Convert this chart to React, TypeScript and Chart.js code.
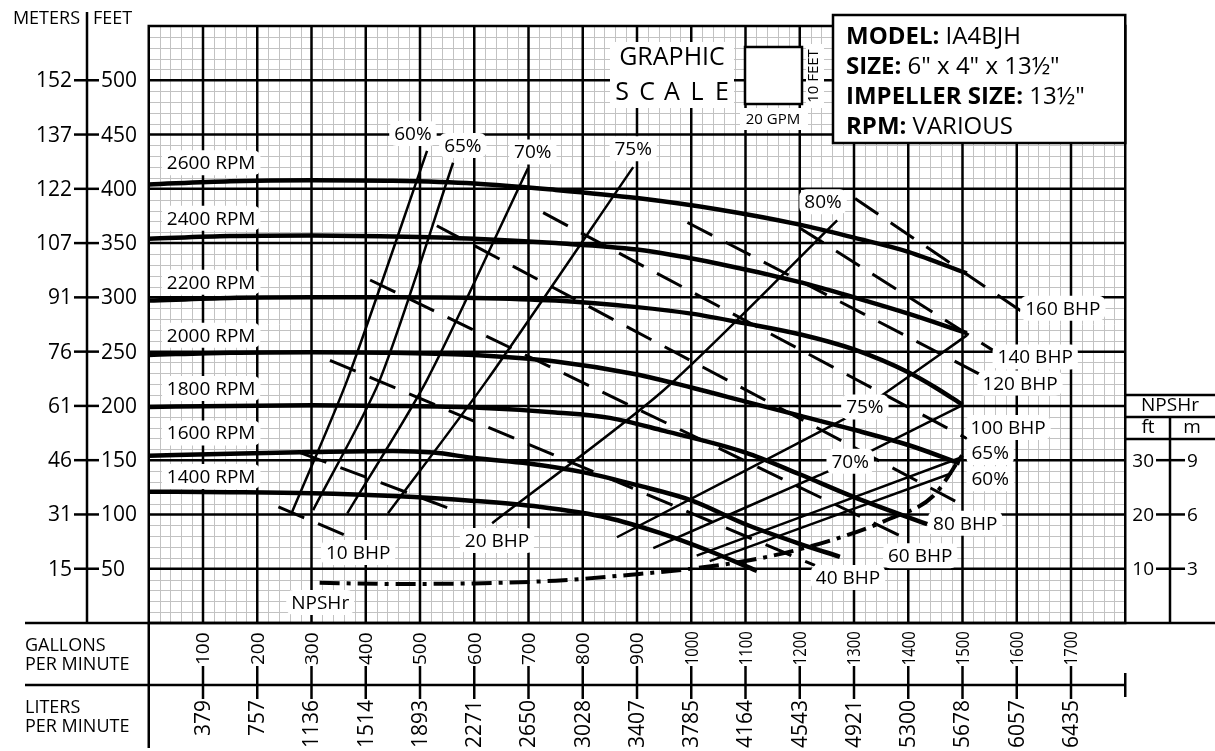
import React, { useEffect, useRef } from "react";
import { Chart, registerables } from "chart.js";

Chart.register(...registerables);

const FONT = '"Open Sans", "Noto Sans", sans-serif';
const X_MAX = 1800;
const Y_MAX = 550;
const NPSH_MAX = 110;

// Axis tick labels
const GPM_TICKS = [100, 200, 300, 400, 500, 600, 700, 800, 900, 1000, 1100, 1200, 1300, 1400, 1500, 1600, 1700];
const LPM_TICKS = ["379", "757", "1136", "1514", "1893", "2271", "2650", "3028", "3407", "3785", "4164", "4543", "4921", "5300", "5678", "6057", "6435"];
const HEAD_FT_TICKS = [500, 450, 400, 350, 300, 250, 200, 150, 100, 50];
const HEAD_M_TICKS = ["152", "137", "122", "107", "91", "76", "61", "46", "31", "15"];
const NPSH_FT_TICKS = [30, 20, 10];
const NPSH_M_TICKS = ["9", "6", "3"];

// Head curves (GPM vs feet)
const RPM_2600_GPM = [0, 150, 300, 450, 600, 750, 900, 1050, 1200, 1300, 1400, 1508];
const RPM_2600_FT = [404, 407, 408, 407.5, 405, 399, 391.5, 381, 367, 355, 342, 322];
const RPM_2400_GPM = [0, 150, 300, 450, 600, 750, 900, 1050, 1200, 1300, 1400, 1508];
const RPM_2400_FT = [354, 356.5, 357, 356, 354, 350, 344, 331, 314, 300, 285, 267];
const RPM_2200_GPM = [0, 150, 300, 450, 600, 750, 900, 1000, 1100, 1200, 1300, 1400, 1450, 1500];
const RPM_2200_FT = [297, 299.5, 300, 300, 299.5, 297, 291, 285, 276, 266, 252, 231, 217, 201];
const RPM_2000_GPM = [0, 150, 300, 450, 600, 750, 900, 1000, 1100, 1200, 1300, 1400, 1495];
const RPM_2000_FT = [247, 249, 249.5, 249, 247, 241, 229, 217, 204, 191, 178, 164, 147];
const RPM_1800_GPM = [0, 150, 300, 450, 600, 750, 850, 950, 1100, 1200, 1300, 1435];
const RPM_1800_FT = [199, 200, 200.5, 200, 198.5, 194, 189, 177, 157, 137, 116, 91];
const RPM_1600_GPM = [0, 150, 300, 450, 525, 600, 700, 800, 900, 1000, 1100, 1200, 1274];
const RPM_1600_FT = [154, 156, 157.5, 158.5, 157, 152, 147, 139, 127, 113, 91, 73, 61];
const RPM_1400_GPM = [0, 150, 300, 450, 600, 720, 845, 942, 1030, 1121];
const RPM_1400_FT = [121, 120.5, 119.5, 117, 112.5, 107, 97, 83, 67, 48];
const RPM_NAMES = ["2600 RPM", "2400 RPM", "2200 RPM", "2000 RPM", "1800 RPM", "1600 RPM", "1400 RPM"];

// NPSHr curve (GPM vs NPSHr feet)
const NPSH_GPM = [315, 450, 600, 750, 900, 1000, 1121, 1250, 1366, 1446, 1500];
const NPSH_FT = [7.4, 7.2, 7.3, 7.8, 9.0, 10.0, 11.8, 15.0, 19.2, 23.4, 31.0];

// Efficiency curves (GPM vs feet)
const EFF_60L_GPM = [513, 366, 264];
const EFF_60L_FT = [435, 224, 102];
const EFF_65L_GPM = [561, 426, 303];
const EFF_65L_FT = [424, 224, 104];
const EFF_70L_GPM = [699, 513, 366];
const EFF_70L_FT = [419, 224, 101];
const EFF_75L_GPM = [893, 624, 441];
const EFF_75L_FT = [420, 224, 101];
const EFF_80_GPM = [633, 948, 1269];
const EFF_80_FT = [92, 214, 371];
const EFF_75R_GPM = [863, 1271, 1320, 1508];
const EFF_75R_FT = [79, 185, 199, 265];
const EFF_70R_GPM = [930, 1235, 1293, 1501];
const EFF_70R_FT = [69, 136, 149, 201];
const EFF_65R_GPM = [1010, 1495];
const EFF_65R_FT = [62, 152];
const EFF_60R_GPM = [1034, 1480];
const EFF_60R_FT = [57, 138];

// Brake horsepower lines (GPM vs feet)
const BHP_10_GPM = [239, 371];
const BHP_10_FT = [107, 79];
const BHP_20_GPM = [279, 552];
const BHP_20_FT = [157, 106];
const BHP_40_GPM = [334, 1228];
const BHP_40_FT = [242, 53];
const BHP_60_GPM = [408, 1403];
const BHP_60_FT = [316, 76];
const BHP_80_GPM = [531, 1510];
const BHP_80_FT = [366, 106];
const BHP_100_GPM = [727, 1508];
const BHP_100_FT = [378, 170];
const BHP_120_GPM = [993, 1575];
const BHP_120_FT = [369, 218];
const BHP_140_GPM = [1200, 1560];
const BHP_140_FT = [364, 250];
const BHP_160_GPM = [1302, 1615];
const BHP_160_FT = [391, 285];

// Text annotations in data units (GPM, feet)
const NOTE_TEXT = [
  "2600 RPM", "2400 RPM", "2200 RPM", "2000 RPM", "1800 RPM", "1600 RPM", "1400 RPM",
  "60%", "65%", "70%", "75%", "80%", "75%", "70%", "65%", "60%",
  "10 BHP", "20 BHP", "40 BHP", "60 BHP", "80 BHP", "100 BHP", "120 BHP", "140 BHP", "160 BHP",
  "NPSHr",
];
const NOTE_GPM = [
  115, 115, 115, 115, 115, 115, 115,
  487, 579, 708, 893, 1243, 1320, 1293, 1551, 1551,
  386, 642, 1289, 1422, 1505, 1584, 1606, 1634, 1685,
  316,
];
const NOTE_FT = [
  424, 373, 314, 265, 216, 175, 135,
  451, 440, 434, 437, 388, 199, 149, 157, 133,
  65, 76, 42, 62, 92, 180, 221, 245, 290,
  19,
];

const pts = (gx: number[], gy: number[]) => gx.map((g, i) => ({ x: g, y: gy[i] }));

function head(gx: number[], gy: number[]) {
  return {
    data: pts(gx, gy),
    borderColor: "#000",
    borderWidth: 4.5,
    pointRadius: 0,
    cubicInterpolationMode: "monotone" as const,
    yAxisID: "y",
  };
}
function eff(gx: number[], gy: number[]) {
  return {
    data: pts(gx, gy),
    borderColor: "#000",
    borderWidth: 2.5,
    pointRadius: 0,
    tension: 0.25,
    yAxisID: "y",
  };
}
function bhp(gx: number[], gy: number[]) {
  return {
    data: pts(gx, gy),
    borderColor: "#000",
    borderWidth: 3,
    borderDash: [28, 15],
    pointRadius: 0,
    yAxisID: "y",
  };
}

function note(ctx: CanvasRenderingContext2D, text: string, cx: number, cy: number, size = 19) {
  ctx.font = `${size}px ${FONT}`;
  const w = ctx.measureText(text).width;
  const h = size + 6;
  ctx.fillStyle = "#fff";
  ctx.beginPath();
  (ctx as any).roundRect(cx - w / 2 - 5, cy - h / 2, w + 10, h, 7);
  ctx.fill();
  ctx.fillStyle = "#000";
  ctx.textAlign = "center";
  ctx.textBaseline = "middle";
  ctx.fillText(text, cx, cy + 1);
}

function line(ctx: CanvasRenderingContext2D, x1: number, y1: number, x2: number, y2: number, w = 2.5) {
  ctx.lineWidth = w;
  ctx.beginPath();
  ctx.moveTo(x1, y1);
  ctx.lineTo(x2, y2);
  ctx.stroke();
}

const decor = {
  id: "pumpDecor",
  beforeDatasetsDraw(chart: any) {
    const { ctx, chartArea: a, scales } = chart;
    const x = scales.x;
    const y = scales.y;
    ctx.save();
    ctx.fillStyle = "#fff";
    ctx.fillRect(a.left, a.top, a.right - a.left, a.bottom - a.top);
    ctx.strokeStyle = "#c2c2c2";
    ctx.lineWidth = 1;
    ctx.beginPath();
    for (let g = 0; g <= X_MAX; g += 20) {
      if (g % 100 === 0) continue;
      const px = Math.round(x.getPixelForValue(g)) + 0.5;
      ctx.moveTo(px, a.top);
      ctx.lineTo(px, a.bottom);
    }
    for (let f = 0; f <= Y_MAX; f += 10) {
      if (f % 50 === 0) continue;
      const py = Math.round(y.getPixelForValue(f)) + 0.5;
      ctx.moveTo(a.left, py);
      ctx.lineTo(a.right, py);
    }
    ctx.stroke();
    ctx.strokeStyle = "#000";
    ctx.lineWidth = 2.5;
    ctx.beginPath();
    for (let g = 100; g < X_MAX; g += 100) {
      const px = x.getPixelForValue(g);
      ctx.moveTo(px, a.top);
      ctx.lineTo(px, a.bottom);
    }
    for (let f = 50; f < Y_MAX; f += 50) {
      const py = y.getPixelForValue(f);
      ctx.moveTo(a.left, py);
      ctx.lineTo(a.right, py);
    }
    ctx.stroke();
    ctx.restore();
  },
  afterDatasetsDraw(chart: any) {
    const { ctx, scales } = chart;
    const x = scales.x;
    const y = scales.y;
    ctx.save();
    NOTE_TEXT.forEach((t, i) => {
      note(ctx, t, x.getPixelForValue(NOTE_GPM[i]), y.getPixelForValue(NOTE_FT[i]));
    });
    ctx.restore();
  },
  afterDraw(chart: any) {
    const { ctx, chartArea: a, scales } = chart;
    const x = scales.x;
    const y = scales.y;
    const yN = scales.yN;
    ctx.save();
    ctx.strokeStyle = "#000";
    ctx.fillStyle = "#000";

    // plot frame
    ctx.lineWidth = 2.5;
    ctx.strokeRect(a.left, a.top, a.right - a.left, a.bottom - a.top);

    // left head axis
    const axX = 87;
    line(ctx, axX, 12, axX, a.bottom);
    ctx.font = `18px ${FONT}`;
    ctx.textBaseline = "middle";
    ctx.textAlign = "right";
    ctx.fillText("METERS", 80, 19);
    ctx.textAlign = "left";
    ctx.fillText("FEET", 93, 19);
    ctx.font = `21px ${FONT}`;
    HEAD_FT_TICKS.forEach((f, i) => {
      const py = y.getPixelForValue(f);
      line(ctx, axX - 13, py, axX + 12, py);
      ctx.textAlign = "right";
      ctx.fillText(HEAD_M_TICKS[i], axX - 15, py + 1);
      ctx.textAlign = "left";
      ctx.fillText(String(f), axX + 14, py + 1);
    });

    // bottom table
    line(ctx, 25, a.bottom, 1215, a.bottom);
    line(ctx, 25, 685, a.right, 685);
    line(ctx, a.left, a.bottom, a.left, 748);
    line(ctx, a.right, 673, a.right, 697);
    ctx.font = `18px ${FONT}`;
    ctx.textAlign = "left";
    ctx.fillText("GALLONS", 25, 646);
    ctx.fillText("PER MINUTE", 25, 665);
    ctx.fillText("LITERS", 25, 708);
    ctx.fillText("PER MINUTE", 25, 727);
    GPM_TICKS.forEach((g, i) => {
      const px = x.getPixelForValue(g);
      line(ctx, px, 666, px, 699);
      ctx.save();
      ctx.translate(px, 666);
      ctx.rotate(-Math.PI / 2);
      ctx.font = `19px ${FONT}`;
      ctx.textAlign = "left";
      ctx.textBaseline = "middle";
      const s = String(g);
      const w = ctx.measureText(s).width;
      if (w > 34) ctx.scale(34 / w, 1);
      ctx.fillStyle = "#fff";
      ctx.fillRect(0, -9, ctx.measureText(s).width + 2, 18);
      ctx.fillStyle = "#000";
      ctx.fillText(s, 1, 1);
      ctx.restore();
      ctx.save();
      ctx.translate(px, 700);
      ctx.rotate(-Math.PI / 2);
      ctx.font = `21px ${FONT}`;
      ctx.textAlign = "right";
      ctx.textBaseline = "middle";
      ctx.fillText(LPM_TICKS[i], 0, 1);
      ctx.restore();
    });

    // NPSHr axis box
    line(ctx, a.right, 395, 1215, 395);
    line(ctx, a.right, 417, 1215, 417);
    line(ctx, a.right, 439, 1215, 439);
    line(ctx, 1170, 417, 1170, a.bottom);
    ctx.font = `19px ${FONT}`;
    ctx.textAlign = "center";
    ctx.fillText("NPSHr", 1170, 406);
    ctx.fillText("ft", 1148, 428);
    ctx.fillText("m", 1192, 428);
    NPSH_FT_TICKS.forEach((f, i) => {
      const py = yN.getPixelForValue(f);
      line(ctx, 1156, py, 1185, py);
      ctx.textAlign = "right";
      ctx.fillText(String(f), 1154, py + 1);
      ctx.textAlign = "left";
      ctx.fillText(NPSH_M_TICKS[i], 1187, py + 1);
    });

    // graphic scale
    ctx.fillStyle = "#fff";
    ctx.fillRect(610, 42, 124, 66);
    ctx.fillRect(740, 108, 68, 22);
    ctx.fillRect(806, 44, 18, 64);
    ctx.fillStyle = "#000";
    ctx.font = `25px ${FONT}`;
    ctx.textAlign = "center";
    ctx.fillText("GRAPHIC", 672, 58);
    ["S", "C", "A", "L", "E"].forEach((c, i) => ctx.fillText(c, 622 + i * 25, 93));
    ctx.fillStyle = "#fff";
    ctx.fillRect(745, 47, 57, 57);
    ctx.lineWidth = 2.5;
    ctx.strokeRect(745, 47, 57, 57);
    ctx.fillStyle = "#000";
    ctx.font = `15px ${FONT}`;
    ctx.fillText("20 GPM", 773, 120);
    ctx.save();
    ctx.translate(814, 76);
    ctx.rotate(-Math.PI / 2);
    ctx.fillText("10 FEET", 0, 0);
    ctx.restore();

    // model box
    ctx.fillStyle = "#fff";
    ctx.fillRect(833, 15, a.right - 833, 128);
    ctx.lineWidth = 2.5;
    ctx.strokeRect(833, 15, a.right - 833, 128);
    const rows: [string, string][] = [
      ["MODEL:", " IA4BJH"],
      ["SIZE:", " 6\" x 4\" x 13\u00bd\""],
      ["IMPELLER SIZE:", " 13\u00bd\""],
      ["RPM:", " VARIOUS"],
    ];
    ctx.textAlign = "left";
    rows.forEach(([b, n], i) => {
      const py = 37 + i * 30;
      ctx.fillStyle = "#000";
      ctx.font = `bold 24px ${FONT}`;
      ctx.fillText(b, 846, py);
      const w = ctx.measureText(b).width;
      ctx.font = `24px ${FONT}`;
      ctx.fillText(n, 846 + w, py);
    });
    ctx.restore();
  },
};

export default function App() {
  const ref = useRef<HTMLCanvasElement | null>(null);
  useEffect(() => {
    document.body.style.margin = "0";
    const canvas = ref.current;
    if (!canvas) return;
    const datasets: any[] = [
      head(RPM_2600_GPM, RPM_2600_FT),
      head(RPM_2400_GPM, RPM_2400_FT),
      head(RPM_2200_GPM, RPM_2200_FT),
      head(RPM_2000_GPM, RPM_2000_FT),
      head(RPM_1800_GPM, RPM_1800_FT),
      head(RPM_1600_GPM, RPM_1600_FT),
      head(RPM_1400_GPM, RPM_1400_FT),
      eff(EFF_60L_GPM, EFF_60L_FT),
      eff(EFF_65L_GPM, EFF_65L_FT),
      eff(EFF_70L_GPM, EFF_70L_FT),
      eff(EFF_75L_GPM, EFF_75L_FT),
      eff(EFF_80_GPM, EFF_80_FT),
      eff(EFF_75R_GPM, EFF_75R_FT),
      eff(EFF_70R_GPM, EFF_70R_FT),
      eff(EFF_65R_GPM, EFF_65R_FT),
      eff(EFF_60R_GPM, EFF_60R_FT),
      bhp(BHP_10_GPM, BHP_10_FT),
      bhp(BHP_20_GPM, BHP_20_FT),
      bhp(BHP_40_GPM, BHP_40_FT),
      bhp(BHP_60_GPM, BHP_60_FT),
      bhp(BHP_80_GPM, BHP_80_FT),
      bhp(BHP_100_GPM, BHP_100_FT),
      bhp(BHP_120_GPM, BHP_120_FT),
      bhp(BHP_140_GPM, BHP_140_FT),
      bhp(BHP_160_GPM, BHP_160_FT),
      {
        data: pts(NPSH_GPM, NPSH_FT),
        borderColor: "#000",
        borderWidth: 4,
        borderDash: [20, 7, 4, 7],
        pointRadius: 0,
        cubicInterpolationMode: "monotone",
        yAxisID: "yN",
      },
    ];
    datasets.forEach((d, i) => (d.label = i < RPM_NAMES.length ? RPM_NAMES[i] : `curve ${i}`));
    const chart = new Chart(canvas, {
      type: "line",
      data: { datasets },
      options: {
        responsive: false,
        animation: false,
        devicePixelRatio: 1,
        layout: { padding: { left: 148.75, right: 89.75, top: 26, bottom: 128 } },
        plugins: { legend: { display: false }, tooltip: { enabled: false } },
        events: [],
        scales: {
          x: { type: "linear", display: false, min: 0, max: X_MAX },
          y: { type: "linear", display: false, min: 0, max: Y_MAX },
          yN: { type: "linear", display: false, min: 0, max: NPSH_MAX },
        },
      },
      plugins: [decor],
    });
    return () => chart.destroy();
  }, []);
  return (
    <canvas
      ref={ref}
      width={1215}
      height={751}
      style={{ display: "block", width: 1215, height: 751, background: "#fff" }}
    />
  );
}
